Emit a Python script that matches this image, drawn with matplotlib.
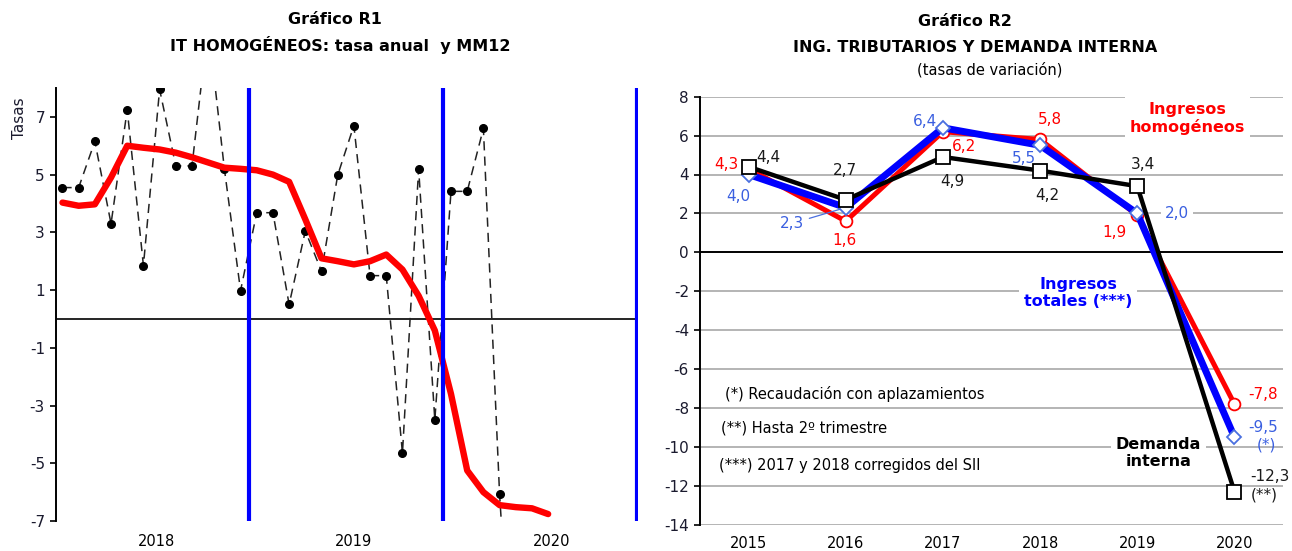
import numpy as np
import matplotlib
matplotlib.use("Agg")
import matplotlib.pyplot as plt

plt.rcParams['font.family'] = ['DejaVu Sans']

# ---------------- Data: Gráfico R1 (monthly, Jan-2018 .. Jul-2020) ----------------
r1_years = ["2018", "2019", "2020"]
r1_monthly = [4.55, 4.55, 6.15, 3.3, 7.25, 1.85, 7.95, 5.3, 5.3, 10.2, 5.2, 0.98,
              3.68, 3.68, 0.5, 3.05, 1.65, 4.98, 6.7, 1.5, 1.5, -4.65, 5.2, -3.5,
              4.42, 4.42, 6.6, -6.07, -15.0]
r1_mm12 = [4.03, 3.92, 3.97, 4.9, 6.0, 5.93, 5.87, 5.76, 5.6, 5.42, 5.24, 5.2,
           5.15, 5.0, 4.75, 3.45, 2.1, 2.0, 1.89, 2.0, 2.23, 1.71, 0.8, -0.4,
           -2.6, -5.25, -6.0, -6.45, -6.52, -6.56, -6.76]
r1_yticks = [-7, -5, -3, -1, 1, 3, 5, 7]

# ---------------- Data: Gráfico R2 (annual) ----------------
r2_years = ["2015", "2016", "2017", "2018", "2019", "2020"]
ing_homog = [4.3, 1.6, 6.2, 5.8, 1.9, -7.8]
ing_total = [4.0, 2.3, 6.4, 5.5, 2.0, -9.5]
demanda = [4.4, 2.7, 4.9, 4.2, 3.4, -12.3]
r2_yticks = list(range(-14, 9, 2))

W, H = 1292, 551
fig = plt.figure(figsize=(W / 100, H / 100), dpi=100)

def fx(px):
    return px / W

def fy(py):
    return 1 - py / H

# ================= Left chart =================
ax1 = fig.add_axes([fx(56), fy(521), fx(638 - 56), fy(88) - fy(521)])
xm = np.arange(len(r1_monthly))
xr = np.arange(len(r1_mm12))
ax1.plot(xm, r1_monthly, color='#222222', lw=1.1, ls=(0, (6, 4)), marker='o',
         ms=5.5, mfc='black', mec='black', zorder=3, clip_on=True)
ax1.plot(xr, r1_mm12, color='#ff0000', lw=4.6, solid_joinstyle='round',
         solid_capstyle='round', zorder=4)
for b in [11.5, 23.5, 35.5]:
    ax1.axvline(b, color='#0000ff', lw=3.0, zorder=5)
ax1.axhline(0, color='black', lw=1.2, zorder=2)
ax1.set_xlim(-0.4, 35.55)
ax1.set_ylim(-7, 8)
ax1.set_yticks(r1_yticks)
ax1.set_yticklabels([str(v) for v in r1_yticks], fontsize=11, color='#1a1a2e')
ax1.set_xticks([5.8, 18.0, 30.2])
ax1.set_xticklabels(r1_years, fontsize=10.5)
ax1.tick_params(axis='x', length=0, pad=9)
ax1.tick_params(axis='y', length=4, width=1.2, direction='out', pad=4)
for s in ['top', 'right', 'bottom']:
    ax1.spines[s].set_visible(False)
ax1.spines['left'].set_linewidth(1.4)
ax1.set_ylabel("Tasas", fontsize=11, color='#1a1a2e')
ax1.yaxis.set_label_coords(-0.05, 0.93)

fig.text(fx(335), fy(20), "Gráfico R1", ha='center', va='center',
         fontsize=11.5, fontweight='bold')
fig.text(fx(340), fy(45), "IT HOMOGÉNEOS: tasa anual  y MM12", ha='center',
         va='center', fontsize=11.5, fontweight='bold')

# ================= Right chart =================
ax2 = fig.add_axes([fx(700), fy(524.6), fx(1283 - 700), fy(96.7) - fy(524.6)])
xc = np.arange(len(r2_years))
for v in r2_yticks:
    if v != 0:
        ax2.axhline(v, color='#b4b4b4', lw=1.4, zorder=0)
ax2.axhline(0, color='black', lw=1.4, zorder=1)

ax2.plot(xc, ing_homog, color='#ff0000', lw=3.6, marker='o', ms=8.5,
         mfc='white', mec='#ff0000', mew=1.3, zorder=3)
ax2.plot(xc, ing_total, color='#0000ff', lw=5.0, marker='D', ms=7.5,
         mfc='white', mec='#4a6fe0', mew=1.3, zorder=4)
ax2.plot(xc, demanda, color='black', lw=3.2, marker='s', ms=10,
         mfc='white', mec='black', mew=1.3, zorder=5)

ax2.set_xlim(-0.5, 5.5)
ax2.set_ylim(-14, 8)
ax2.set_yticks(r2_yticks)
ax2.set_yticklabels([str(v) for v in r2_yticks], fontsize=11, color='#1a1a2e')
ax2.set_xticks(xc)
ax2.set_xticklabels(r2_years, fontsize=10.5)
ax2.tick_params(axis='x', length=0, pad=8)
ax2.tick_params(axis='y', length=4, width=1.2, direction='out', pad=4)
for s in ['top', 'right', 'bottom']:
    ax2.spines[s].set_visible(False)
ax2.spines['left'].set_linewidth(1.4)

def fmt(v):
    return ("%.1f" % v).replace('.', ',')

red_off = [(-22, 4), (-1, -19), (21, -15), (10, 20), (-23, -17), (14, 10)]
blue_off = [(-10, -22), (-54, -16), (-18, 6), (-16, -13), (40, 0), (14, 10)]
blk_off = [(20, 9), (-1, 29), (9, -25), (7, -25), (6, 22), (16, 15)]

def label(series, offs, color, last_left=True, bg_idx=()):
    for i, (v, (dx, dy)) in enumerate(zip(series, offs)):
        ha = 'left' if (last_left and i == len(series) - 1) else 'center'
        kw = {}
        if i in bg_idx:
            kw['bbox'] = dict(boxstyle='square,pad=0.2', fc='white', ec='none')
        ax2.annotate(fmt(v), xy=(xc[i], v), xytext=(dx, dy),
                     textcoords='offset pixels', ha=ha, va='center',
                     fontsize=11, color=color, zorder=6, **kw)

label(ing_homog, red_off, '#ff0000')
label(demanda, blk_off, '#1a1a1a')
# blue labels (2,3 has a leader line)
for i, (v, (dx, dy)) in enumerate(zip(ing_total, blue_off)):
    ha = 'left' if i == len(ing_total) - 1 else 'center'
    kw = {}
    if i == 4:
        kw['bbox'] = dict(boxstyle='square,pad=0.25', fc='white', ec='none')
    if i == 1:
        kw['arrowprops'] = dict(arrowstyle='-', color='#4a6fe0', lw=0.9,
                                shrinkA=2, shrinkB=4)
    ax2.annotate(fmt(v), xy=(xc[i], v), xytext=(dx, dy),
                 textcoords='offset pixels', ha=ha, va='center',
                 fontsize=11, color='#3a5fe0', zorder=6, **kw)

# footnote markers next to 2020 values
ax2.annotate("(*)", xy=(xc[5], ing_total[5]), xytext=(22, -8),
             textcoords='offset pixels', ha='left', va='center',
             fontsize=11, color='#3a5fe0')
ax2.annotate("(**)", xy=(xc[5], demanda[5]), xytext=(16, -3),
             textcoords='offset pixels', ha='left', va='center',
             fontsize=11, color='#1a1a1a')

box = dict(boxstyle='square,pad=0.3', fc='white', ec='none')
ax2.text(4.52, 6.89, "Ingresos\nhomogéneos", color='#ff0000', fontsize=11.5,
         fontweight='bold', ha='center', va='center', linespacing=1.15,
         bbox=box, zorder=6)
ax2.text(3.39, -2.1, "Ingresos\ntotales (***)", color='#0000ff', fontsize=11.5,
         fontweight='bold', ha='center', va='center', linespacing=1.15,
         bbox=box, zorder=6)
ax2.text(4.22, -10.33, "Demanda\ninterna", color='black', fontsize=11.5,
         fontweight='bold', ha='center', va='center', linespacing=1.15,
         bbox=box, zorder=6)

ax2.text(0.043, (-7.3 + 14) / 22, "(*) Recaudación con aplazamientos",
         transform=ax2.transAxes, fontsize=10.5, ha='left', va='center')
ax2.text(0.036, (-9.05 + 14) / 22, "(**) Hasta 2º trimestre",
         transform=ax2.transAxes, fontsize=10.5, ha='left', va='center')
ax2.text(0.033, (-10.97 + 14) / 22, "(***) 2017 y 2018 corregidos del SII",
         transform=ax2.transAxes, fontsize=10.5, ha='left', va='center')

fig.text(fx(965), fy(22), "Gráfico R2", ha='center', va='center',
         fontsize=11.5, fontweight='bold')
fig.text(fx(975), fy(47), "ING. TRIBUTARIOS Y DEMANDA INTERNA", ha='center',
         va='center', fontsize=11.5, fontweight='bold')
fig.text(fx(990), fy(70), "(tasas de variación)", ha='center', va='center',
         fontsize=10.5)

fig.savefig("out.png", dpi=100)
